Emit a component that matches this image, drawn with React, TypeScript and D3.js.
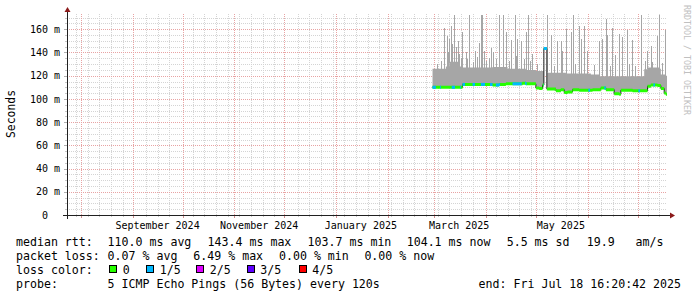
import React from "react";
import * as d3 from "d3";

const W = 697;
const H = 297;
const DAY = 86400000;
const END = Date.UTC(2025, 6, 18, 16, 20, 42);
const SPAN_DAYS = 360;
const START = END - SPAN_DAYS * DAY;
const DATA_START = Date.UTC(2025, 1, 28);
const END_OFFSET = (END - DATA_START) / DAY;

// axis ticks
const yMajorTicks = [0, 20, 40, 60, 80, 100, 120, 140, 160];
const yTickLabels = ["0", "20 m", "40 m", "60 m", "80 m", "100 m", "120 m", "140 m", "160 m"];
const xLabelMonths = ["2024-09", "2024-11", "2025-01", "2025-03", "2025-05"];

// median rtt in ms, step values: [days since 2025-02-28, ms]
const medianSteps: [number, number][] = [
  [0, 110], [18, 112.5], [36, 112], [40, 112.5], [44, 113], [54, 113.5], [56, 113],
  [62, 109.5], [64, 109], [66, 112], [66.8, 143.4], [68.6, 108.5], [74, 107], [77, 108],
  [79, 105.5], [81, 106], [84, 108], [88, 107.5], [96, 108], [101, 109.5], [104, 108],
  [109, 104.5], [112, 104], [113, 107.5], [120, 107], [129, 111], [131, 112],
  [135, 111.5], [137, 109], [139, 105], [140, 104.1],
];

// upper edge of the smoke band (ms)
const smokeTopSteps: [number, number][] = [
  [0, 126], [8, 128], [10, 132], [16, 128], [18, 127], [36, 127.5], [45, 126], [56, 125],
  [62, 124], [69, 122.5], [80, 122], [95, 121], [100, 119.5], [127, 125.5], [129, 127],
  [136, 126], [137, 121], [140, 120],
];

// single-column smoke spikes: [days since 2025-02-28, ms]
const smokeSpikes: [number, number][] = [
  [3, 130], [5.5, 133], [7.4, 161], [8.8, 154], [9.5, 140], [10.3, 152], [11.2, 163],
  [12.2, 147], [13.3, 172], [14.6, 145], [15.3, 150], [16.3, 139], [17.2, 135], [18.2, 158],
  [20.5, 140], [21, 134], [22.3, 172], [24.5, 132], [26, 141], [27, 136], [28, 148],
  [29.2, 172], [29.8, 172], [31.3, 141], [32.5, 133], [34.3, 135], [35.5, 144], [36.8, 140],
  [38.5, 134], [40.3, 172], [42.8, 172], [44.2, 158], [46, 133], [47.2, 151], [49.6, 172],
  [50.5, 137], [51.2, 152], [53.2, 150], [55, 134], [56.2, 158], [57.6, 172], [59, 133],
  [60.2, 139], [63, 130], [68.8, 172], [71.2, 155], [73, 128], [75.2, 150], [77.4, 150],
  [78.2, 141], [80.4, 160], [83.2, 158], [84.8, 172], [86, 130], [88.2, 163], [89.4, 152],
  [91.2, 163], [92.8, 141], [97, 129], [100.2, 150], [102.2, 152], [104.2, 169], [105.2, 155],
  [107, 128], [108.2, 161], [110, 138], [112.4, 156], [114.2, 153], [117.2, 159], [118, 130],
  [120.2, 151], [122, 128], [125.2, 172], [128, 133], [129.2, 141], [131.2, 146], [132, 132],
  [134.8, 154], [136.2, 172], [138, 131], [139.6, 159],
];

// intervals with 1/5 packet loss: [from day, to day]
const loss1Segments: [number, number][] = [
  [0, 2], [4.5, 5], [11.5, 13.5], [16.5, 17], [18, 19.5], [24, 25.5], [29, 31.5],
  [34.5, 36], [38, 40.5], [48, 53.5], [55.5, 56.5], [66.6, 68.6], [93.5, 94.5],
  [103, 104], [123.5, 124.5], [132.5, 133.5],
];

const lossLegend = ["0", "1/5", "2/5", "3/5", "4/5"];
const lossColors = ["#26ff00", "#00b8ff", "#dd00ff", "#5e00ff", "#ff0000"];

const X0 = 67;
const X1 = 667;
const Y0 = 215;
const YTOP = 15;
const YMAX = 172.3;

const FONT = "'DejaVu Sans Mono', monospace";

function stepAt(steps: [number, number][], d: number) {
  let v = steps[0][1];
  for (const [s, val] of steps) {
    if (s <= d) v = val;
    else break;
  }
  return v;
}

export default function App() {
  const xs = d3.scaleUtc().domain([new Date(START), new Date(END)]).range([X0, X1]);
  const ys = d3.scaleLinear().domain([0, YMAX]).range([Y0, YTOP]);
  const xd = (d: number) => xs(new Date(DATA_START + d * DAY));

  const medPts: [number, number][] = [...medianSteps, [END_OFFSET, medianSteps[medianSteps.length - 1][1]]];

  const offs = Array.from(new Set([...medianSteps.map((s) => s[0]), ...smokeTopSteps.map((s) => s[0]), END_OFFSET])).sort((a, b) => a - b);
  const smokePts = offs.map((d) => {
    const lo = stepAt(medianSteps, d);
    const hi = Math.max(lo, stepAt(smokeTopSteps, d));
    return { d, lo, hi };
  });
  const smokeArea = d3
    .area<{ d: number; lo: number; hi: number }>()
    .curve(d3.curveStepAfter)
    .x((p) => xd(p.d))
    .y0((p) => ys(p.lo))
    .y1((p) => ys(p.hi));

  const medLine = d3
    .line<[number, number]>()
    .curve(d3.curveStepAfter)
    .x((p) => xd(p[0]))
    .y((p) => ys(p[1]));

  const band = d3
    .area<[number, number]>()
    .curve(d3.curveStepAfter)
    .x((p) => xd(p[0]))
    .y0((p) => ys(p[1]) + 1.5)
    .y1((p) => ys(p[1]) - 1.5);

  const segPts = (a: number, b: number): [number, number][] => {
    const pts: [number, number][] = [[a, stepAt(medianSteps, a)]];
    for (const s of medianSteps) if (s[0] > a && s[0] < b) pts.push(s);
    pts.push([b, stepAt(medianSteps, b)]);
    return pts;
  };

  const months = d3.utcMonth.range(new Date(START), new Date(END));
  const weeks = d3.utcMonday
    .range(new Date(START), new Date(END))
    .filter((w) => !months.some((m) => Math.abs(xs(m) - xs(w)) < 2));
  const yMinor = d3.range(5, YMAX, 5).filter((v) => v % 20 !== 0);
  const yMajor = yMajorTicks.filter((v) => v > 0);
  const px = (v: number) => Math.round(v) + 0.5;
  const fmtMonth = d3.utcFormat("%B %Y");

  const minorColor = "#d4d4d4";
  const majorColor = "#e8a3a3";
  const smokeColor = "#a6a6a6";

  const row1: [number, string][] = [
    [16, "median rtt:"], [107.6, "110.0 ms avg"], [207.6, "143.4 ms max"], [307.6, "103.7 ms min"],
    [406.7, "104.1 ms now"], [506.7, "5.5 ms sd"], [586.7, "19.9"], [635.6, "am/s"],
  ];
  const row2: [number, string][] = [
    [16, "packet loss:"], [107.6, "0.07 % avg"], [193.3, "6.49 % max"], [279, "0.00 % min"], [364.4, "0.00 % now"],
  ];
  const boxX = [109, 146, 196, 246.5, 298.5];

  return (
    <svg width={W} height={H} style={{ position: "absolute", left: 0, top: 0, background: "#fff" }}>
      <rect x={0} y={0} width={W} height={H} fill="#ffffff" />
      <g stroke={minorColor} strokeWidth={1} strokeDasharray="1,1" shapeRendering="crispEdges">
        {yMinor.map((v) => (
          <line key={"ym" + v} x1={X0} x2={X1} y1={px(ys(v))} y2={px(ys(v))} />
        ))}
        {weeks.map((w) => (
          <line key={"xw" + +w} x1={px(xs(w))} x2={px(xs(w))} y1={Y0} y2={YTOP - 2} />
        ))}
      </g>
      <g stroke={majorColor} strokeWidth={1} strokeDasharray="1,1" shapeRendering="crispEdges">
        {yMajor.map((v) => (
          <line key={"yM" + v} x1={X0} x2={X1} y1={px(ys(v))} y2={px(ys(v))} />
        ))}
        {months.map((m) => (
          <line key={"xM" + +m} x1={px(xs(m))} x2={px(xs(m))} y1={Y0} y2={YTOP - 2} />
        ))}
      </g>
      <g strokeWidth={1} shapeRendering="crispEdges">
        {yMinor.map((v) => (
          <line key={"tym" + v} x1={X0 - 2} x2={X0} y1={px(ys(v))} y2={px(ys(v))} stroke="#c8c8c8" />
        ))}
        {yMajorTicks.map((v) => (
          <line key={"tyM" + v} x1={X0 - 3} x2={X0} y1={px(ys(v))} y2={px(ys(v))} stroke="#b0b0b0" />
        ))}
        {weeks.map((w) => (
          <line key={"txw" + +w} x1={px(xs(w))} x2={px(xs(w))} y1={Y0} y2={Y0 + 2} stroke="#c8c8c8" />
        ))}
        {months.map((m) => (
          <line key={"txM" + +m} x1={px(xs(m))} x2={px(xs(m))} y1={Y0} y2={Y0 + 3} stroke="#d09090" />
        ))}
      </g>

      <path d={smokeArea(smokePts) || ""} fill={smokeColor} />
      {smokeSpikes.map(([d, v], i) => {
        const base = Math.max(stepAt(medianSteps, d), stepAt(smokeTopSteps, d));
        return (
          <rect key={"sp" + i} x={Math.floor(xd(d))} width={1} y={ys(v)} height={ys(base) - ys(v) + 1} fill={smokeColor} shapeRendering="crispEdges" />
        );
      })}

      <path d={medLine(medPts) || ""} fill="none" stroke="#202020" strokeWidth={1} />
      <path d={band(medPts) || ""} fill={lossColors[0]} />
      {loss1Segments.map(([a, b], i) => (
        <path key={"l1" + i} d={band(segPts(a, b)) || ""} fill={lossColors[1]} />
      ))}

      <line x1={X0 - 4} x2={X1 + 4} y1={Y0 + 0.5} y2={Y0 + 0.5} stroke="#202020" />
      <line x1={X0 + 0.5} x2={X0 + 0.5} y1={Y0 + 4} y2={YTOP - 4} stroke="#202020" />
      <polygon points={`${X0 - 2.5},${YTOP - 3} ${X0 + 3.5},${YTOP - 3} ${X0 + 0.5},${YTOP - 8}`} fill="#8b1a1a" />
      <polygon points={`${X1 + 3},${Y0 - 2.5} ${X1 + 3},${Y0 + 3.5} ${X1 + 8},${Y0 + 0.5}`} fill="#8b1a1a" />

      <g fontFamily={FONT} fontSize={10} fill="#000">
        {yMajorTicks.map((v, i) => (
          <text key={"yl" + v} x={v === 0 ? 60 - 12.04 : 60} y={ys(v) + 3.6} textAnchor="end">
            {yTickLabels[i]}
          </text>
        ))}
        {xLabelMonths.map((m) => {
          const [yy, mm] = m.split("-").map(Number);
          const start = new Date(Date.UTC(yy, mm - 1, 1));
          const c = xs(new Date(+start + 15 * DAY));
          return (
            <text key={"xl" + m} x={c} y={229} textAnchor="middle">
              {fmtMonth(start)}
            </text>
          );
        })}
      </g>

      <text x={0} y={0} transform={`translate(14.5,114) rotate(-90)`} fontFamily={FONT} fontSize={11.4} textAnchor="middle" fill="#000">
        Seconds
      </text>
      <text x={0} y={0} transform={`translate(684,5) rotate(90)`} fontFamily={FONT} fontSize={8.3} fill="#c0c0c0">
        RRDTOOL / TOBI OETIKER
      </text>

      <g fontFamily={FONT} fontSize={11.6} fill="#000">
        {row1.map(([x, s]) => (
          <text key={"r1" + x} x={x} y={245.5}>{s}</text>
        ))}
        {row2.map(([x, s]) => (
          <text key={"r2" + x} x={x} y={259.5}>{s}</text>
        ))}
        <text x={16} y={273.5}>loss color:</text>
        {lossLegend.map((s, i) => (
          <g key={"lg" + i}>
            <rect x={boxX[i] + 0.5} y={265.5} width={7} height={7} fill={lossColors[i]} stroke="#000" strokeWidth={1} shapeRendering="crispEdges" />
            <text x={boxX[i] + 13.8} y={273.5}>{s}</text>
          </g>
        ))}
        <text x={16} y={287.5}>probe:</text>
        <text x={107.6} y={287.5}>5 ICMP Echo Pings (56 Bytes) every 120s</text>
        <text x={681} y={287.5} textAnchor="end">end: Fri Jul 18 16:20:42 2025</text>
      </g>
    </svg>
  );
}
